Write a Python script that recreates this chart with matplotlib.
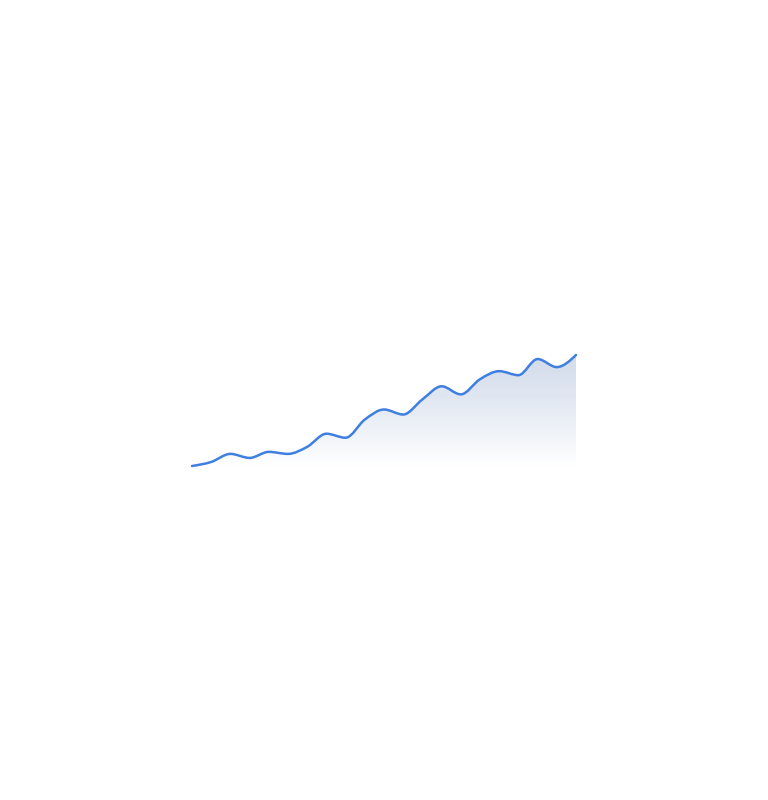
import numpy as np
import matplotlib
matplotlib.use("Agg")
import matplotlib.pyplot as plt
from matplotlib.path import Path
from matplotlib.patches import PathPatch
from matplotlib.colors import LinearSegmentedColormap

# sparkline data
days = list(range(21))
values = [20, 24, 32, 28, 34, 32, 39, 52, 48, 66, 76, 71, 86, 99, 91, 106, 114, 110, 126, 118, 130]

line_color = "#3f7fe0"


def smooth_path(x, y):
    # monotone-x cubic (d3 style) as bezier segments
    x = np.asarray(x, float)
    y = np.asarray(y, float)
    h = np.diff(x)
    d = np.diff(y) / h
    m = np.zeros_like(y)
    for i in range(1, len(y) - 1):
        s0, s1 = d[i - 1], d[i]
        p = (s0 * h[i] + s1 * h[i - 1]) / (h[i - 1] + h[i])
        m[i] = (np.sign(s0) + np.sign(s1)) * min(abs(s0), abs(s1), 0.5 * abs(p))
    m[0] = (3 * d[0] - m[1]) / 2
    m[-1] = (3 * d[-1] - m[-2]) / 2
    verts = [(x[0], y[0])]
    codes = [Path.MOVETO]
    for i in range(len(x) - 1):
        verts += [(x[i] + h[i] / 3, y[i] + m[i] * h[i] / 3),
                  (x[i + 1] - h[i] / 3, y[i + 1] - m[i + 1] * h[i] / 3),
                  (x[i + 1], y[i + 1])]
        codes += [Path.CURVE4] * 3
    return verts, codes


fig = plt.figure(figsize=(7.68, 8), dpi=100)
ax = fig.add_axes([0.25, 0.4175, 0.5, 0.13875])
ax.set_xlim(min(days), max(days))
ax.set_ylim(min(values), max(values))
ax.axis("off")

verts, codes = smooth_path(days, values)

# area under the curve with vertical gradient
fill_verts = verts + [(days[-1], min(values)), (days[0], min(values)), verts[0]]
fill_codes = codes + [Path.LINETO, Path.LINETO, Path.CLOSEPOLY]
area = PathPatch(Path(fill_verts, fill_codes), facecolor="none", edgecolor="none")
ax.add_patch(area)
cmap = LinearSegmentedColormap.from_list("fade", ["#ffffff", "#e6ebf4", "#d2dbeb"])
grad = np.linspace(0, 1, 256).reshape(-1, 1)
img = ax.imshow(grad, cmap=cmap, aspect="auto", origin="lower",
                extent=[min(days), max(days), min(values), max(values)], zorder=1)
img.set_clip_path(area)

ax.add_patch(PathPatch(Path(verts, codes), facecolor="none", edgecolor=line_color,
                       lw=1.8, zorder=3, clip_on=False, capstyle="round", joinstyle="round"))

fig.savefig("out.png", dpi=100)
